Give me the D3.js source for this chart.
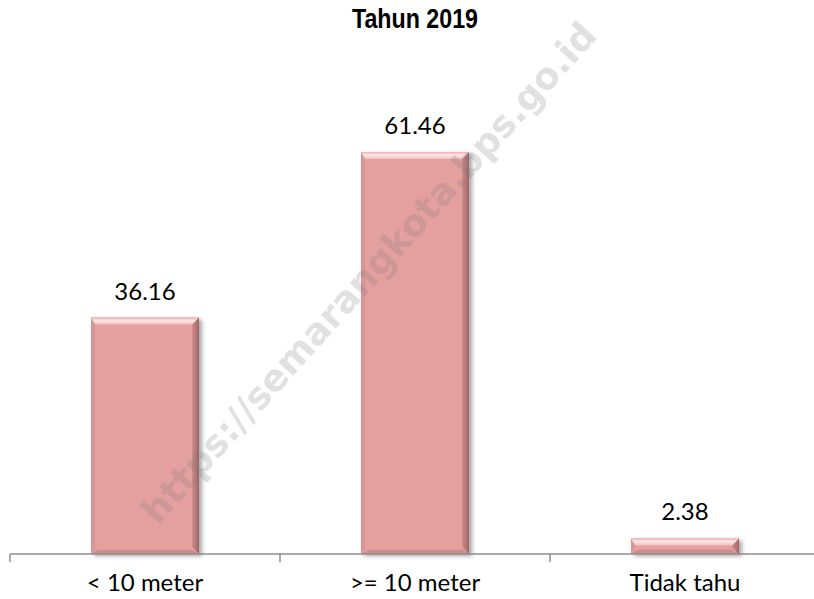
<!DOCTYPE html>
<html lang="en">
  <head>
    <meta charset="UTF-8" />
    <title>Tahun 2019</title>
    <style>
      body { margin: 0; background: #fff; }
    </style>
  </head>
  <body>
    <svg id="chart" width="814" height="599"></svg>

    <script src="https://cdn.jsdelivr.net/npm/d3@7"></script>
    <script>
      const categories = ["< 10 meter", ">= 10 meter", "Tidak tahu"];
      const values = [36.16, 61.46, 2.38];
      const valueLabels = ["36.16", "61.46", "2.38"];
      const title = "Tahun 2019";
      const watermark = "https://semarangkota.bps.go.id";

      const svg = d3.select("#chart");
      const baseY = 554;

      const x = d3.scaleBand()
        .domain(categories)
        .range([10, 820])
        .paddingInner(0.6)
        .paddingOuter(0.3);

      const y = d3.scaleLinear()
        .domain([0, 70])
        .range([baseY, baseY - 70 * 6.54]);

      // gradients + shadow
      const defs = svg.append("defs");
      const gTop = defs.append("linearGradient").attr("id", "gTop")
        .attr("x1", 0).attr("y1", 0).attr("x2", 0).attr("y2", 1);
      gTop.append("stop").attr("offset", "0%").attr("stop-color", "#eeb1af");
      gTop.append("stop").attr("offset", "45%").attr("stop-color", "#fde8e7");
      gTop.append("stop").attr("offset", "100%").attr("stop-color", "#f0bcbb");
      const gRight = defs.append("linearGradient").attr("id", "gRight")
        .attr("x1", 0).attr("y1", 0).attr("x2", 1).attr("y2", 0);
      gRight.append("stop").attr("offset", "0%").attr("stop-color", "#cf8e8d");
      gRight.append("stop").attr("offset", "100%").attr("stop-color", "#9e6564");
      const shadow = defs.append("filter").attr("id", "shadow")
        .attr("x", "-20%").attr("y", "-20%").attr("width", "150%").attr("height", "150%");
      shadow.append("feDropShadow")
        .attr("dx", 3).attr("dy", 2).attr("stdDeviation", 2)
        .attr("flood-color", "#000").attr("flood-opacity", 0.35);

      // title
      svg.append("text")
        .attr("x", 415)
        .attr("y", 28)
        .attr("text-anchor", "middle")
        .attr("font-family", "'Liberation Sans Narrow', 'Liberation Sans', Arial, sans-serif")
        .attr("font-weight", "bold")
        .attr("font-size", 28)
        .attr("textLength", 126)
        .attr("lengthAdjust", "spacingAndGlyphs")
        .attr("fill", "#000")
        .text(title);

      // bars with bevel
      const bars = svg.selectAll("g.bar")
        .data(values)
        .enter()
        .append("g")
        .attr("class", "bar");

      bars.each(function (d, i) {
        const g = d3.select(this);
        const x0 = x(categories[i]);
        const w = x.bandwidth();
        const y0 = y(d);
        const h = baseY - y0;
        const b = Math.min(7, h / 2.2);
        const x1 = x0 + w;
        const y1 = baseY;

        g.append("rect")
          .attr("x", x0).attr("y", y0)
          .attr("width", w).attr("height", h)
          .attr("fill", "#e4a09f")
          .attr("filter", "url(#shadow)");

        const poly = (pts, fill) => g.append("polygon")
          .attr("points", pts.map(p => p.join(",")).join(" "))
          .attr("fill", fill);

        // left
        poly([[x0, y0], [x0 + b * 0.6, y0 + b], [x0 + b * 0.6, y1 - b], [x0, y1]], "#d89594");
        // bottom
        poly([[x0, y1], [x0 + b, y1 - b * 0.6], [x1 - b, y1 - b * 0.6], [x1, y1]], "#cd8d8c");
        // right
        poly([[x1, y0], [x1 - b, y0 + b], [x1 - b, y1 - b], [x1, y1]], "url(#gRight)");
        // top
        poly([[x0, y0], [x1, y0], [x1 - b, y0 + b], [x0 + b * 0.6, y0 + b]], "url(#gTop)");
      });

      // value labels
      svg.selectAll("text.value")
        .data(values)
        .enter()
        .append("text")
        .attr("class", "value")
        .attr("x", (d, i) => x(categories[i]) + x.bandwidth() / 2)
        .attr("y", d => y(d) - 18)
        .attr("text-anchor", "middle")
        .attr("font-family", "Lato, 'Open Sans', sans-serif")
        .attr("font-size", 24)
        .attr("fill", "#000")
        .text((d, i) => valueLabels[i]);

      // axis line + boundary ticks
      const step = x.step();
      const gap = step - x.bandwidth();
      const bounds = categories.map(c => x(c) - gap / 2);
      bounds.push(bounds[bounds.length - 1] + step);

      svg.append("line")
        .attr("x1", bounds[0]).attr("x2", bounds[bounds.length - 1])
        .attr("y1", baseY).attr("y2", baseY)
        .attr("stroke", "#8c8c8c").attr("stroke-width", 1.5);

      svg.selectAll("line.tick")
        .data(bounds)
        .enter()
        .append("line")
        .attr("class", "tick")
        .attr("x1", d => d).attr("x2", d => d)
        .attr("y1", baseY).attr("y2", baseY + 8)
        .attr("stroke", "#8c8c8c").attr("stroke-width", 1.5);

      svg.selectAll("text.cat")
        .data(categories)
        .enter()
        .append("text")
        .attr("class", "cat")
        .attr("x", d => x(d) + x.bandwidth() / 2)
        .attr("y", 591)
        .attr("text-anchor", "middle")
        .attr("font-family", "Lato, 'Open Sans', sans-serif")
        .attr("font-size", 24)
        .attr("fill", "#000")
        .text(d => d);

      // watermark
      svg.append("text")
        .attr("transform", "translate(158,526) rotate(-48)")
        .attr("font-family", "'DejaVu Sans', Verdana, sans-serif")
        .attr("font-weight", "bold")
        .attr("font-size", 37)
        .attr("fill", "#7a7a7a")
        .attr("opacity", 0.22)
        .text(watermark);
    </script>
  </body>
</html>
